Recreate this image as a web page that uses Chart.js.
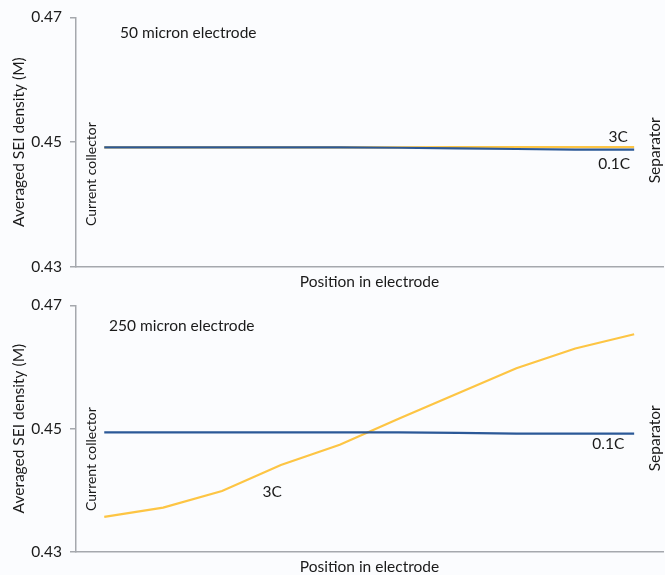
<!DOCTYPE html>
<html>
<head>
<meta charset="utf-8">
<script src="https://cdn.jsdelivr.net/npm/chart.js@4.4.1/dist/chart.umd.min.js"></script>
<style>
  html, body { margin: 0; padding: 0; background: #fbfcfe; }
  #wrap { position: relative; width: 665px; height: 575px; overflow: hidden; }
  .box { position: absolute; left: 0; width: 665px; }
  #topBox { top: 0; height: 292px; }
  #bottomBox { top: 288px; height: 287px; }
</style>
</head>
<body>
<div id="wrap">
  <div class="box" id="topBox"><canvas id="chartTop"></canvas></div>
  <div class="box" id="bottomBox"><canvas id="chartBottom"></canvas></div>
</div>
<script>
// data
const positions = [0, 1, 2, 3, 4, 5, 6, 7, 8, 9];
const yTicks = [0.43, 0.45, 0.47];

// 50 micron electrode
const thin_01C = [0.44915, 0.44915, 0.44915, 0.44915, 0.44915, 0.4491, 0.4490, 0.4489, 0.4488, 0.4488];
const thin_3C = [0.44915, 0.44915, 0.44915, 0.44915, 0.44915, 0.44915, 0.4492, 0.4492, 0.4492, 0.4492];

// 250 micron electrode
const thick_01C = [0.4494, 0.4494, 0.4494, 0.4494, 0.4494, 0.4494, 0.4493, 0.4492, 0.4492, 0.4492];
const thick_3C = [0.4357, 0.4372, 0.4399, 0.4441, 0.4474, 0.4516, 0.4557, 0.4598, 0.4630, 0.4653];

const blue = '#2b5897';
const yellow = '#fdc544';
const axisGray = '#a5a8ad';
const textColor = '#1a1a1a';
const fontFamily = 'Lato, "Open Sans", sans-serif';

function toPoints(values) {
  return positions.map((p, i) => ({ x: p, y: values[i] }));
}

// draws the free text notes of each panel
const notesPlugin = {
  id: 'notes',
  afterDatasetsDraw(chart, args, opts) {
    const { ctx, chartArea, scales } = chart;
    ctx.save();
    ctx.fillStyle = textColor;
    ctx.font = '15.5px ' + fontFamily;
    ctx.textBaseline = 'middle';

    // panel title
    ctx.textAlign = 'left';
    ctx.fillText(opts.title, chartArea.left + opts.titleDx, chartArea.top + opts.titleDy);

    // line labels, placed in data units
    opts.lineLabels.forEach(l => {
      ctx.textAlign = 'center';
      ctx.fillText(l.text, scales.x.getPixelForValue(l.x), scales.y.getPixelForValue(l.y));
    });

    // rotated side labels
    ctx.save();
    ctx.font = '14px ' + fontFamily;
    ctx.translate(chartArea.left + 15, chartArea.bottom - 41);
    ctx.rotate(-Math.PI / 2);
    ctx.textAlign = 'left';
    ctx.fillText('Current collector', 0, 0);
    ctx.restore();

    ctx.save();
    ctx.translate(chartArea.right - 8, chartArea.top + 133);
    ctx.rotate(-Math.PI / 2);
    ctx.textAlign = 'center';
    ctx.fillText('Separator', 0, 0);
    ctx.restore();

    ctx.restore();
  }
};

function makeChart(canvasId, d01, d3, opts) {
  const ctx = document.getElementById(canvasId).getContext('2d');
  return new Chart(ctx, {
    type: 'line',
    data: {
      datasets: [{
        label: '0.1C',
        data: toPoints(d01),
        borderColor: blue,
        borderWidth: 2.2,
        pointRadius: 0,
        tension: 0
      },
      {
        label: '3C',
        data: toPoints(d3),
        borderColor: yellow,
        borderWidth: 2.2,
        pointRadius: 0,
        tension: 0
      }]
    },
    options: {
      responsive: true,
      maintainAspectRatio: false,
      animation: false,
      layout: {
        padding: { top: 17, right: 2, left: 0, bottom: 0 }
      },
      plugins: {
        legend: { display: false },
        tooltip: { enabled: false },
        notes: opts.notes
      },
      scales: {
        x: {
          type: 'linear',
          min: -0.48,
          max: 9.49,
          ticks: { display: false },
          grid: { display: false },
          border: { display: true, color: axisGray, width: 1.5 },
          title: {
            display: true,
            text: 'Position in electrode',
            color: textColor,
            font: { family: fontFamily, size: 15.5, lineHeight: 1 },
            padding: { top: 0, bottom: opts.xTitlePad }
          },
          afterFit(scale) { scale.height = opts.xAxisHeight; }
        },
        y: {
          min: 0.43,
          max: 0.47,
          afterBuildTicks(scale) {
            scale.ticks = yTicks.map(v => ({ value: v }));
          },
          ticks: {
            color: textColor,
            padding: 8,
            font: { family: fontFamily, size: 15.5 },
            callback: v => v.toFixed(2)
          },
          grid: {
            display: true,
            drawOnChartArea: false,
            drawTicks: true,
            tickLength: 6,
            color: axisGray,
            lineWidth: 1.5
          },
          border: { display: true, color: axisGray, width: 1.5 },
          title: {
            display: true,
            text: 'Averaged SEI density (M)',
            color: textColor,
            font: { family: fontFamily, size: 15.5 },
            padding: { top: 10, bottom: 0 }
          },
          afterFit(scale) { scale.width = 76; }
        }
      }
    },
    plugins: [notesPlugin]
  });
}

makeChart('chartTop', thin_01C, thin_3C, {
  xAxisHeight: 25,
  xTitlePad: 2,
  notes: {
    title: '50 micron electrode',
    titleDx: 44,
    titleDy: 16,
    lineLabels: [
      { text: '3C', x: 8.73, y: 0.4508 },
      { text: '0.1C', x: 8.66, y: 0.4465 }
    ]
  }
});

makeChart('chartBottom', thick_01C, thick_3C, {
  xAxisHeight: 23,
  xTitlePad: 0,
  notes: {
    title: '250 micron electrode',
    titleDx: 33,
    titleDy: 21,
    lineLabels: [
      { text: '0.1C', x: 8.56, y: 0.4475 },
      { text: '3C', x: 2.85, y: 0.4397 }
    ]
  }
});
</script>
</body>
</html>
